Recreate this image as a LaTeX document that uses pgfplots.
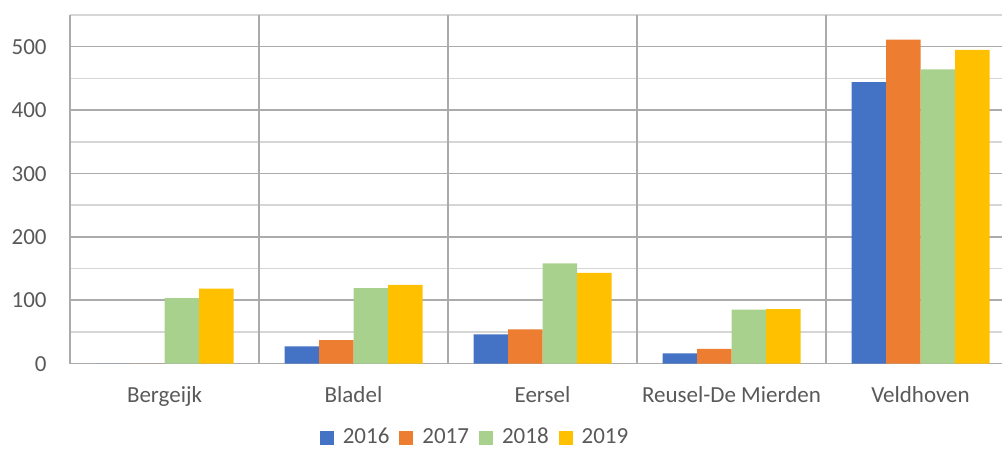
\documentclass[border=0pt]{standalone}
\usepackage{pgfplots}
\pgfplotsset{compat=1.18}
\usepackage{fontspec}
\setmainfont{Carlito}
\definecolor{c16}{HTML}{4472C4}
\definecolor{c17}{HTML}{ED7D31}
\definecolor{c18}{HTML}{A9D18E}
\definecolor{c19}{HTML}{FFC000}
\definecolor{txt}{HTML}{595959}
\definecolor{gmaj}{HTML}{ABABAB}
\definecolor{gmin}{HTML}{D6D6D6}
\begin{document}
\begin{tikzpicture}
\begin{axis}[
  at={(35pt,44.25pt)}, anchor=south west,
  scale only axis, width=466pt, height=174.25pt,
  xmin=-0.5, xmax=4.4312, ymin=0, ymax=550,
  ybar=0pt, bar width=17.25pt,
  axis line style={draw=none},
  tick style={draw=none},
  major tick length=0pt, minor tick length=0pt,
  xtick={0,1,2,3,4},
  xticklabels={Bergeijk,Bladel,Eersel,Reusel-De Mierden,Veldhoven},
  extra x ticks={-0.5,0.5,1.5,2.5,3.5},
  extra x tick labels={},
  extra x tick style={grid=major, major grid style={draw=gmaj, line width=0.8pt}},
  ytick={0,100,200,300,400,500},
  minor ytick={50,150,250,350,450,550},
  ymajorgrids, yminorgrids,
  major grid style={draw=gmaj, line width=0.8pt},
  minor grid style={draw=gmin, line width=0.8pt},
  /pgf/number format/assume math mode=true,
  tick label style={font=\fontsize{11.5}{13}\selectfont, text=txt, inner sep=0pt},
  yticklabel style={anchor=base east, xshift=-11.5pt, yshift=-3.8pt},
  xticklabel style={anchor=base, yshift=-19.25pt},
  legend style={draw=none, fill=none, inner sep=0pt, outer sep=0pt,
    at={(0.4335,-0.2125)}, anchor=center,
    font=\fontsize{11.5}{13}\selectfont, text=txt,
    /tikz/every odd column/.append style={column sep=4.5pt},
    /tikz/every even column/.append style={column sep=5pt},
    nodes={inner sep=0pt}},
  legend columns=4,
  legend cell align=left,
  legend image code/.code={\fill[#1] (0pt,-3.6pt) rectangle (7pt,3.4pt);},
]
\addplot[fill=c16, draw=none] coordinates {(0,0) (1,27) (2,46) (3,16) (4,444)};
\addplot[fill=c17, draw=none] coordinates {(0,0) (1,37) (2,54) (3,23) (4,511)};
\addplot[fill=c18, draw=none] coordinates {(0,103) (1,119) (2,158) (3,85) (4,464)};
\addplot[fill=c19, draw=none] coordinates {(0,118) (1,124) (2,143) (3,86) (4,495)};
\legend{2016,2017,2018,2019}
\end{axis}
\pgfresetboundingbox
\useasboundingbox (0,0) rectangle (501pt,226pt);
\end{tikzpicture}
\end{document}
